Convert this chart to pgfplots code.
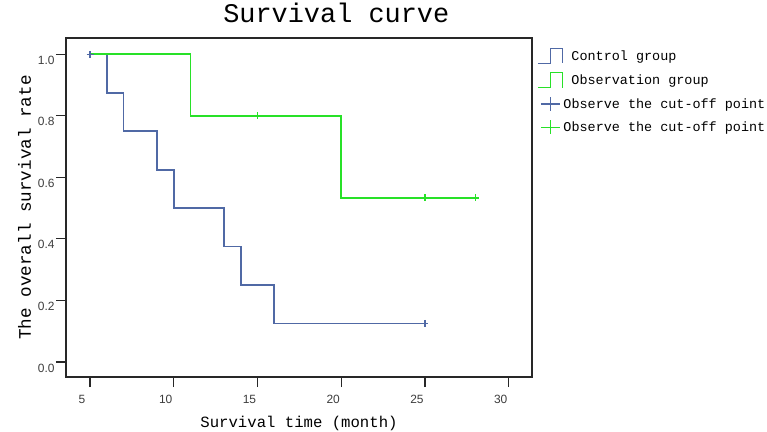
\documentclass[border=0pt]{standalone}
\usepackage{pgfplots}
\pgfplotsset{compat=1.18}
\usepackage{fontspec}
\setmainfont{Liberation Mono}
\newfontfamily\arialf{Liberation Sans}
\definecolor{ctrl}{RGB}{80,105,165}
\definecolor{obs}{RGB}{40,225,40}
\definecolor{axgray}{RGB}{40,40,40}
\begin{document}
\begin{tikzpicture}
\useasboundingbox (-66bp,-55bp) rectangle (701bp,377bp);
\begin{axis}[
  at={(0,0)}, anchor=south west,
  scale only axis, width=466bp, height=339bp,
  xmin=3.567, xmax=31.39, ymin=-0.049, ymax=1.053,
  xtick={5,10,15,20,25,30}, ytick={0,0.2,0.4,0.6,0.8,1.0},
  xtick pos=bottom, ytick pos=left,
  tick align=outside, major tick length=10bp,
  tick style={line width=1.2bp, axgray},
  axis line style={line width=1.4bp, axgray},
  /pgf/number format/assume math mode=true,
  yticklabel style={/pgf/number format/fixed, /pgf/number format/fixed zerofill, /pgf/number format/precision=1,
    font=\arialf\fontsize{12}{12}\selectfont, text=axgray!90, xshift=2bp, yshift=-6bp},
  xticklabel style={font=\arialf\fontsize{12}{12}\selectfont, text=axgray!90, xshift=-8bp, yshift=-5bp},
  title={Survival curve},
  title style={at={(axis description cs:0.58,1.0295)}, anchor=base, font=\fontsize{27}{27}\selectfont, inner sep=0pt},
  xlabel={Survival time (month)},
  xlabel style={at={(axis description cs:0.5,-0.1475)}, anchor=base, font=\fontsize{15.7}{16}\selectfont, inner sep=0pt},
  ylabel={The overall survival rate},
  ylabel style={at={(axis description cs:-0.0751,0.5)}, anchor=base, rotate=0, font=\fontsize{17.7}{18}\selectfont, inner sep=0pt},
  legend cell align=left,
  legend style={at={(axis description cs:1.0107,0.972)}, anchor=north west, draw=none, fill=none,
    font=\fontsize{13.5}{14}\selectfont, row sep=8bp, inner sep=0pt, nodes={inner sep=2bp}},
]
\addplot[const plot mark left, ctrl, line width=1.7bp,
  legend image code/.code={\draw[ctrl, line width=1.3bp] (0bp,-7bp) -- (13bp,-7bp) -- (13bp,8bp) -- (25bp,8bp) -- (25bp,-7bp);}]
  coordinates {(5,1) (6,0.875) (7,0.75) (9,0.625) (10,0.5) (13,0.375) (14,0.25) (16,0.125) (25,0.125)};
\addlegendentry{\hspace*{6bp}Control group}
\addplot[const plot mark left, obs, line width=1.7bp,
  legend image code/.code={\draw[obs, line width=1.3bp] (0bp,-7bp) -- (13bp,-7bp) -- (13bp,8bp) -- (25bp,8bp) -- (25bp,-7bp);}]
  coordinates {(5,1) (11,0.8) (20,0.5333) (28,0.5333)};
\addlegendentry{\hspace*{6bp}Observation group}
\addplot[only marks, mark=+, mark size=3.5bp, ctrl, mark options={line width=1.3bp},
  legend image code/.code={\draw[ctrl, line width=1.3bp] (3bp,0bp) -- (22bp,0bp) (13bp,-7bp) -- (13bp,7bp);}]
  coordinates {(5,1) (25,0.125)};
\addlegendentry{\hspace*{-2bp}Observe the cut-off point}
\addplot[only marks, mark=+, mark size=3.5bp, obs, mark options={line width=1.3bp},
  legend image code/.code={\draw[obs, line width=1.3bp] (3bp,0bp) -- (22bp,0bp) (13bp,-7bp) -- (13bp,7bp);}]
  coordinates {(15,0.8) (25,0.5333) (28,0.5333)};
\addlegendentry{\hspace*{-2bp}Observe the cut-off point}
\end{axis}
\end{tikzpicture}
\end{document}
